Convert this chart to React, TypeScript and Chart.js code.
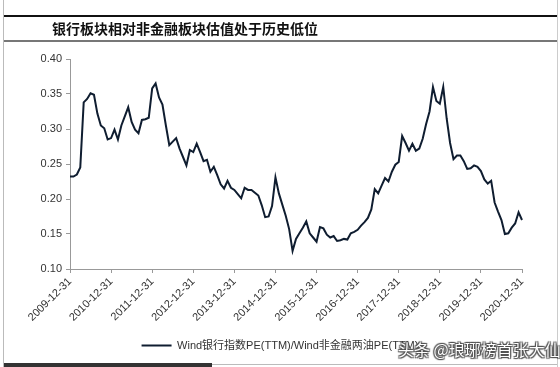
import React, { useEffect, useRef } from 'react';
import { Chart, registerables } from 'chart.js';

Chart.register(...registerables);

const chartTitle = '银行板块相对非金融板块估值处于历史低位';
const seriesName = 'Wind银行指数PE(TTM)/Wind非金融两油PE(TTM)';
const watermark = '头条 @琅琊榜首张大仙';

const yearTicks = [
  '2009-12-31', '2010-12-31', '2011-12-31', '2012-12-31', '2013-12-31', '2014-12-31',
  '2015-12-31', '2016-12-31', '2017-12-31', '2018-12-31', '2019-12-31', '2020-12-31',
];

// monthly categories from 2009-12 to 2020-12
const months: string[] = [];
for (let y = 2009; y <= 2020; y++) {
  for (let m = 1; m <= 12; m++) {
    if (y === 2009 && m < 12) continue;
    months.push(`${y}-${String(m).padStart(2, '0')}`);
  }
}

const bankVsNonFinPE = [
  0.232, 0.232, 0.235, 0.245, 0.338, 0.343, 0.351, 0.349, 0.322, 0.305,
  0.301, 0.285, 0.287, 0.299, 0.285, 0.305, 0.318, 0.331, 0.310, 0.299,
  0.294, 0.313, 0.314, 0.316, 0.358, 0.365, 0.345, 0.335, 0.305, 0.277,
  0.282, 0.287, 0.272, 0.260, 0.248, 0.270, 0.267, 0.279, 0.267, 0.254,
  0.256, 0.239, 0.246, 0.234, 0.221, 0.215, 0.226, 0.216, 0.213, 0.207,
  0.201, 0.216, 0.213, 0.213, 0.209, 0.205, 0.191, 0.174, 0.175, 0.190,
  0.231, 0.208, 0.192, 0.176, 0.157, 0.126, 0.143, 0.151, 0.159, 0.168,
  0.151, 0.145, 0.139, 0.160, 0.158, 0.149, 0.145, 0.147, 0.140, 0.141,
  0.143, 0.142, 0.151, 0.153, 0.156, 0.162, 0.167, 0.173, 0.185, 0.214,
  0.208, 0.219, 0.230, 0.225, 0.239, 0.249, 0.253, 0.290, 0.280, 0.269,
  0.279, 0.269, 0.272, 0.286, 0.307, 0.325, 0.360, 0.340, 0.336, 0.360,
  0.315, 0.280, 0.257, 0.262, 0.262, 0.254, 0.243, 0.244, 0.248, 0.246,
  0.240, 0.228, 0.222, 0.226, 0.195, 0.182, 0.170, 0.150, 0.151, 0.159,
  0.165, 0.181, 0.170,
];

const yMin = 0.1;
const yMax = 0.4;
const yStep = 0.05;

export default function App() {
  const canvasRef = useRef<HTMLCanvasElement | null>(null);

  useEffect(() => {
    const canvas = canvasRef.current;
    if (!canvas) return;
    Chart.defaults.font.family = '"Liberation Sans", Arial, "Noto Sans CJK SC", sans-serif';
    const chart = new Chart(canvas, {
      type: 'line',
      data: {
        labels: months,
        datasets: [
          {
            label: seriesName,
            data: bankVsNonFinPE,
            borderColor: '#0f1d30',
            backgroundColor: '#0f1d30',
            borderWidth: 2,
            pointRadius: 0,
            tension: 0,
            fill: false,
          },
        ],
      },
      options: {
        animation: false,
        responsive: false,
        maintainAspectRatio: false,
        layout: { padding: { left: 38, right: 38, top: 59, bottom: 6 } },
        plugins: {
          tooltip: { enabled: false },
          title: { display: false },
          legend: {
            display: true,
            position: 'bottom',
            labels: {
              usePointStyle: true,
              pointStyle: 'line',
              pointStyleWidth: 30,
              color: '#333',
              font: { size: 11 },
              padding: 10,
            },
          },
        },
        scales: {
          x: {
            type: 'category',
            offset: false,
            grid: {
              display: true,
              drawOnChartArea: false,
              drawTicks: true,
              tickLength: 4,
              color: '#999',
            },
            border: { display: true, color: '#999', width: 1 },
            ticks: {
              autoSkip: false,
              maxRotation: 45,
              minRotation: 45,
              color: '#333',
              font: { size: 11 },
              padding: 2,
              callback: (_v: any, index: number) =>
                index % 12 === 0 ? yearTicks[index / 12] : null,
            },
            afterFit: (scale: any) => {
              scale.height = 61;
            },
          },
          y: {
            min: yMin,
            max: yMax,
            grid: {
              display: true,
              drawOnChartArea: false,
              drawTicks: true,
              tickLength: 4,
              color: '#999',
            },
            border: { display: true, color: '#999', width: 1 },
            ticks: {
              stepSize: yStep,
              color: '#333',
              font: { size: 11 },
              padding: 4,
              callback: (v: any) => Number(v).toFixed(2),
            },
            afterFit: (scale: any) => {
              scale.width = 32;
            },
          },
        },
      },
    });
    return () => chart.destroy();
  }, []);

  return (
    <div
      style={{
        position: 'fixed',
        left: 0,
        top: 0,
        width: 560,
        height: 367,
        background: '#fff',
        overflow: 'hidden',
      }}
    >
      <canvas
        ref={canvasRef}
        width={560}
        height={367}
        style={{ position: 'absolute', left: 0, top: 0, width: 560, height: 367 }}
      />
      <div style={{ position: 'absolute', left: 3, top: 0, width: 1, height: 367, background: '#bbb' }} />
      <div style={{ position: 'absolute', left: 557, top: 0, width: 1, height: 367, background: '#ccc' }} />
      <div style={{ position: 'absolute', left: 4, top: 15, width: 553, height: 2, background: '#111' }} />
      <div style={{ position: 'absolute', left: 4, top: 40, width: 553, height: 2, background: '#777' }} />
      <div
        style={{
          position: 'absolute',
          left: 52,
          top: 19,
          fontFamily: '"Noto Sans CJK SC", sans-serif',
          fontWeight: 700,
          fontSize: 14,
          lineHeight: '18px',
          color: '#111',
          whiteSpace: 'nowrap',
        }}
      >
        {chartTitle}
      </div>
      <div style={{ position: 'absolute', left: 4, top: 363, width: 208, height: 4, background: '#333' }} />
      <div style={{ position: 'absolute', left: 212, top: 364, width: 345, height: 1, background: '#bbb' }} />
      <div
        style={{
          position: 'absolute',
          left: 398,
          top: 339,
          fontFamily: '"Noto Sans CJK SC", sans-serif',
          fontSize: 16,
          lineHeight: '20px',
          color: '#fff',
          whiteSpace: 'nowrap',
          textShadow:
            '0 0 1px #444, 0 0 1px #444, 1px 1px 1px #555, -1px -1px 1px #555, 1px -1px 1px #555, -1px 1px 1px #555',
        }}
      >
        {watermark}
      </div>
    </div>
  );
}
